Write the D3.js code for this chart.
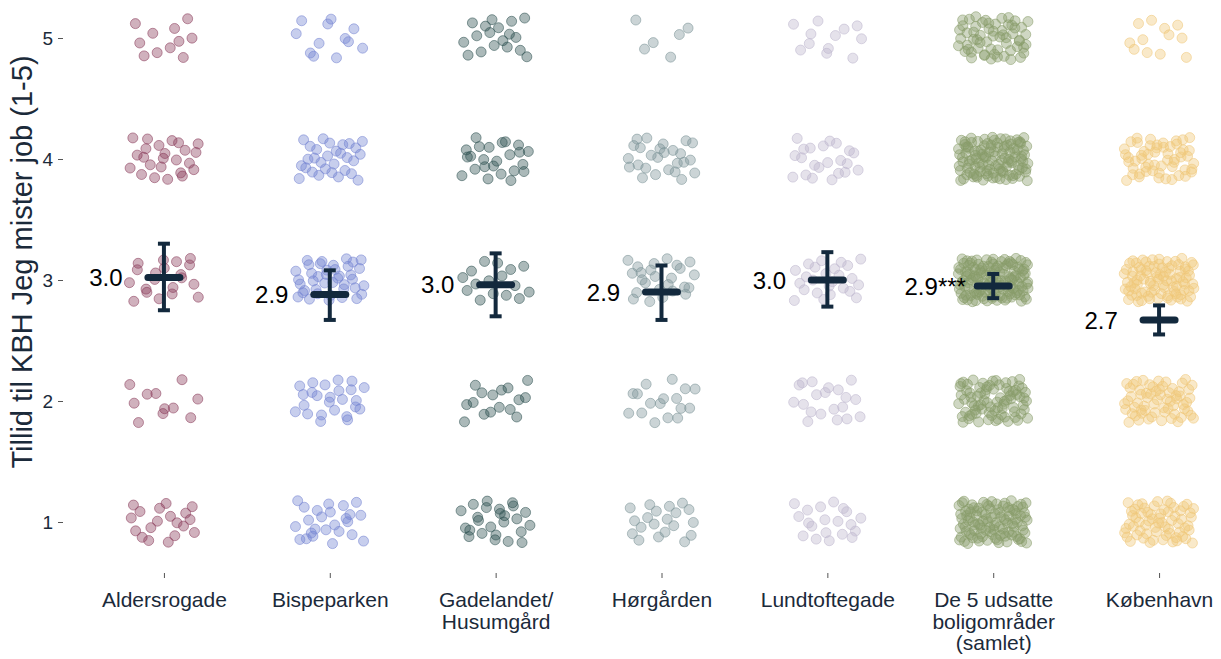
<!DOCTYPE html>
<html>
<head>
<meta charset="utf-8">
<script src="https://cdn.jsdelivr.net/npm/d3@7"></script>
<style>
  body { margin: 0; background: #fff; }
  svg { display: block; font-family: "Liberation Sans", Arial, sans-serif; }
</style>
</head>
<body>
<div class="chart"></div>
<script>
// groups on the x axis (line breaks as in the original labels)
const groups = ["Aldersrogade", "Bispeparken", "Gadelandet/\nHusumgård", "Hørgården",
  "Lundtoftegade", "De 5 udsatte\nboligområder\n(samlet)", "København"];
const levels = [1, 2, 3, 4, 5];
// number of answers per level (1..5) for each group, counted off the picture
const counts = [
  [19, 11, 20, 24, 11],
  [25, 25, 40, 30, 12],
  [25, 16, 16, 24, 18],
  [20, 17, 25, 26, 6],
  [20, 20, 25, 22, 12],
  [105, 80, 135, 115, 60],
  [65, 65, 90, 55, 12]
];
const means = [3.02, 2.88, 2.96, 2.90, 3.00, 2.95, 2.67];
const ciLow = [2.75, 2.67, 2.70, 2.67, 2.78, 2.85, 2.55];
const ciHigh = [3.30, 3.08, 3.22, 3.12, 3.23, 3.05, 2.79];
const meanLabels = ["3.0", "2.9", "3.0", "2.9", "3.0", "2.9***", "2.7"];
const colors = ["#8a3d5b", "#7484d2", "#2d5150", "#7c9398", "#bdb7cd", "#889c69", "#efc778"];

const W = 1221, H = 659;
const svg = d3.select(".chart").append("svg")
  .attr("width", W).attr("height", H);

const x = d3.scalePoint()
  .domain(groups)
  .range([81, 1242])
  .padding(0.5);
const step = x.step();

const y = d3.scaleLinear()
  .domain([1, 5])
  .range([522, 38]);

// y axis: ticks only, no domain line
const yAxis = svg.append("g")
  .attr("transform", "translate(63,0)")
  .call(d3.axisLeft(y).tickValues(levels).tickSize(5).tickPadding(5).tickFormat(d3.format("d")));
yAxis.select(".domain").remove();
yAxis.selectAll("line").attr("stroke", "#555").attr("stroke-width", 1);
yAxis.selectAll("text").attr("font-size", 19).attr("fill", "#1b2a3a")
  .style("font-family", "Liberation Sans, Arial, sans-serif");

// x axis
const xAxis = svg.append("g")
  .attr("transform", "translate(0,573)")
  .call(d3.axisBottom(x).tickSize(5).tickFormat(""));
xAxis.select(".domain").remove();
xAxis.selectAll("line").attr("stroke", "#555").attr("stroke-width", 1);
xAxis.selectAll(".tick").each(function(d) {
  const t = d3.select(this).append("text")
    .attr("fill", "#1b2a3a")
    .attr("font-size", 21)
    .attr("text-anchor", "middle")
    .attr("y", 34);
  d.split("\n").forEach((line, i) => {
    t.append("tspan").attr("x", 0).attr("dy", i === 0 ? 0 : 21.5).text(line);
  });
});

// y axis title
svg.append("text")
  .attr("transform", "translate(32,262) rotate(-90)")
  .attr("text-anchor", "middle")
  .attr("font-size", 29)
  .attr("fill", "#1b2a3a")
  .text("Tillid til KBH Jeg mister job (1-5)");

// jittered answers: low discrepancy offsets for layout only
function halton(i, b) {
  let f = 1, r = 0;
  while (i > 0) { f /= b; r += f * (i % b); i = Math.floor(i / b); }
  return r;
}
const pts = [];
groups.forEach((g, gi) => {
  levels.forEach((lv, li) => {
    const n = counts[gi][li];
    const start = 7 + gi * 53 + li * 311;
    for (let k = 0; k < n; k++) {
      pts.push({
        g: gi,
        cx: x(g) + (halton(start + k, 2) - 0.5) * 2 * 0.21 * step,
        cy: y(lv + (halton(start + k, 3) - 0.5) * 2 * 0.18)
      });
    }
  });
});

svg.append("g").selectAll("circle")
  .data(pts)
  .enter()
  .append("circle")
  .attr("cx", d => d.cx)
  .attr("cy", d => d.cy)
  .attr("r", 5)
  .attr("fill", d => colors[d.g])
  .attr("fill-opacity", 0.4)
  .attr("stroke", d => colors[d.g])
  .attr("stroke-opacity", 0.55)
  .attr("stroke-width", 1);

// mean + confidence interval crosses
const navy = "#13293d";
const cross = svg.append("g").selectAll("g")
  .data(groups)
  .enter()
  .append("g");
cross.append("line")
  .attr("x1", d => x(d)).attr("x2", d => x(d))
  .attr("y1", (d, i) => y(ciLow[i])).attr("y2", (d, i) => y(ciHigh[i]))
  .attr("stroke", navy).attr("stroke-width", 4);
cross.append("line")
  .attr("x1", d => x(d) - 6).attr("x2", d => x(d) + 6)
  .attr("y1", (d, i) => y(ciLow[i])).attr("y2", (d, i) => y(ciLow[i]))
  .attr("stroke", navy).attr("stroke-width", 4);
cross.append("line")
  .attr("x1", d => x(d) - 6).attr("x2", d => x(d) + 6)
  .attr("y1", (d, i) => y(ciHigh[i])).attr("y2", (d, i) => y(ciHigh[i]))
  .attr("stroke", navy).attr("stroke-width", 4);
cross.append("line")
  .attr("x1", d => x(d) - 16).attr("x2", d => x(d) + 16)
  .attr("y1", (d, i) => y(means[i])).attr("y2", (d, i) => y(means[i]))
  .attr("stroke", navy).attr("stroke-width", 7).attr("stroke-linecap", "round");
cross.append("text")
  .attr("x", d => x(d) - 58)
  .attr("y", (d, i) => y(means[i]))
  .attr("dy", "0.36em")
  .attr("text-anchor", "middle")
  .attr("font-size", 24)
  .attr("fill", "#000")
  .text((d, i) => meanLabels[i]);
</script>
</body>
</html>
